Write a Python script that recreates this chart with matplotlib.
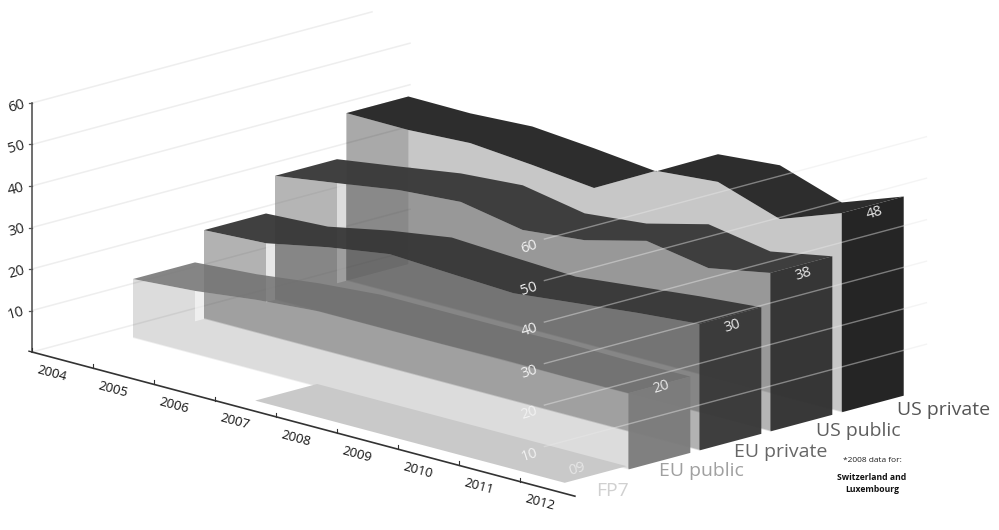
import numpy as np
import matplotlib
matplotlib.use("Agg")
import matplotlib.pyplot as plt
from matplotlib.patches import Polygon

plt.rcParams['font.family'] = ['Open Sans', 'DejaVu Sans']

# values (front edge of every ribbon)
years = [2004, 2005, 2006, 2007, 2008, 2009, 2010, 2011, 2012]
us_private = [40.4, 40.3, 41.1, 39.8, 38.2, 46.3, 47.6, 42.6, 48.0]
us_public = [29.9, 32.1, 34.4, 35.5, 32.7, 34.2, 38.0, 35.4, 38.2]
eu_private = [21.4, 22.2, 25.2, 27.5, 26.7, 26.0, 27.6, 29.2, 30.5]
eu_public = [14.2, 15.3, 17.1, 18.3, 18.3, 18.3, 18.5, 18.3, 18.4]
fp7_years = [2007, 2008, 2009, 2010, 2011, 2012]
fp7 = [0.9, 0.9, 0.9, 0.9, 0.9, 0.9]
value_ticks = [10, 20, 30, 40, 50, 60]
end_labels = [48, 38, 30, 20]

# oblique projection of the chart box on the page (pixels)
ORIGIN = (32, 352)
YEAR_VEC = (61.0, 16.2)
DEPTH_SLOPE = 0.268
Z_SCALE = 4.15
BAND = 62
GAP = 9
YEAR_STEP = 1.015
YEAR_START = 0.4


def project(x, d, z):
    x, d, z = np.asarray(x, float), np.asarray(d, float), np.asarray(z, float)
    px = ORIGIN[0] + YEAR_VEC[0] * x + d
    py = ORIGIN[1] + YEAR_VEC[1] * x - DEPTH_SLOPE * d - Z_SCALE * z
    return px, py


def year_x(y):
    return YEAR_START + YEAR_STEP * (np.asarray(y, float) - years[0])


def face(ax, x, d, z, color, alpha, zorder=2):
    px, py = project(x, d, z)
    ax.add_patch(Polygon(np.column_stack([px, py]), closed=True, fc=color,
                         ec='none', lw=0, alpha=alpha, zorder=zorder))


def ribbon(ax, yrs, vals, d, front, top, end, cap_a=0.0, gap_a=0.0):
    xs = year_x(yrs)
    vals = np.asarray(vals, float)
    zero = np.zeros(len(xs))
    # left cap, seen through the front
    if cap_a:
        face(ax, [xs[0]] * 4, [d, d + BAND, d + BAND, d], [0, 0, vals[0], vals[0]], 'black', cap_a)
    # front
    face(ax, np.r_[xs, xs[::-1]], np.full(2 * len(xs), d), np.r_[vals, zero], front[0], front[1])
    # pale strip between this ribbon and the next one behind it
    if gap_a:
        face(ax, [xs[0]] * 4, [d + BAND, d + BAND + GAP, d + BAND + GAP, d + BAND],
             [0, 0, vals[0], vals[0]], 'white', gap_a)
    # top
    face(ax, np.r_[xs, xs[::-1]], np.r_[np.full(len(xs), d), np.full(len(xs), d + BAND)],
         np.r_[vals, vals[::-1]], top[0], top[1])
    # right end
    face(ax, [xs[-1]] * 4, [d, d + BAND, d + BAND, d], [0, 0, vals[-1], vals[-1]], end[0], end[1])
    # pale line along the foot of the front
    px, py = project(xs, np.full(len(xs), d), zero)
    ax.plot(px, py, color='white', lw=1.2, alpha=0.5, zorder=2)


fig = plt.figure(figsize=(9.99, 5.30), dpi=100)
ax = fig.add_axes([0, 0, 1, 1])
ax.set_xlim(0, 999)
ax.set_ylim(530, 0)
ax.axis('off')

# back wall grid
for v in [0] + value_ticks:
    px, py = project([0, 0], [0, 378 if v < 60 else 340], [v, v])
    ax.plot(px, py, color='#eeeeee', lw=1.1, zorder=1)

ribbon(ax, years, us_private, 290, ('black', 0.22), ('#2d2d2d', 1.0), ('#252525', 1.0), cap_a=0.15)
ribbon(ax, years, us_public, 218.6, ('#666666', 0.48), ('#3a3a3a', 0.97), ('#313131', 0.97), gap_a=0.55)
ribbon(ax, years, eu_private, 147.6, ('#404040', 0.40), ('#363636', 0.95), ('#383838', 0.97), gap_a=0.7)
ribbon(ax, years, eu_public, 76.6, ('#606060', 0.22), ('#707070', 0.85), ('#7c7c7c', 0.97), gap_a=0.57)

# FP7 is almost flat on the floor
xs = year_x(fp7_years)
face(ax, np.r_[xs, xs[::-1]], np.r_[np.full(len(xs), 13), np.full(len(xs), 13 + BAND)],
     np.r_[fp7, fp7[::-1]], '#c9c9c9', 1.0, zorder=3)

# right wall grid runs over the ribbons
for v in value_ticks:
    px, py = project([8.4, 8.4], [0, 382], [v, v])
    ax.plot(px, py, color='#e8e8e8', lw=1.0, alpha=0.45, zorder=4)
    lx, ly = project(8.15, 0, v - 3)
    ax.text(lx, ly, str(v), color='#f2f2f2', fontsize=10.5, rotation=18,
            ha='center', va='center', zorder=5)

# axes
px, py = project([0, 8.9], [0, 0], [0, 0])
ax.plot(px, py, color='#333333', lw=1.2, zorder=6)
px, py = project([0, 0], [0, 0], [0, 60])
ax.plot(px, py, color='#555555', lw=1.2, zorder=6)
px, py = project([-0.05, 0], [0, 0], [0, 0])
ax.plot(px, py, color='#333333', lw=1, zorder=6)
for i, y in enumerate(years):
    tx, ty = project(i, 0, 0)
    ax.plot([tx, tx], [ty, ty - 4], color='#333333', lw=0.8, zorder=6)
    lx, ly = project(i + 0.32, 0, -3.9)
    ax.text(lx, ly, str(y), color='#111111', fontsize=9.5, rotation=-15,
            ha='center', va='center', zorder=6)
for v in value_ticks:
    tx, ty = project(0, 0, v)
    ax.plot([tx - 3, tx], [ty, ty], color='#555555', lw=0.9, zorder=6)
    ax.text(tx - 16, ty + 3, str(v), color='#222222', fontsize=10.5, rotation=15,
            ha='center', va='center', zorder=6)

# numbers on the ribbon ends
for lab, d in zip(end_labels, [290, 218.6, 147.6, 76.6]):
    lx, ly = project(year_x(years[-1]), d + BAND / 2 + 2, lab - 2.2)
    ax.text(lx, ly, str(lab), color='#e8e8e8', fontsize=10.5, rotation=18,
            ha='center', va='center', zorder=5)
lx, ly = project(year_x(years[-1]), 25, 3.5)
ax.text(lx, ly, "09", color='#e6e6e6', fontsize=10.5, rotation=18, ha='center', va='center', zorder=5)

# series names
ax.text(944, 410, "US private", color='#555555', fontsize=14, ha='center', va='center')
ax.text(858, 431, "US public", color='#5e5e5e', fontsize=14, ha='center', va='center')
ax.text(781, 452, "EU private", color='#666666', fontsize=14, ha='center', va='center')
ax.text(701, 471, "EU public", color='#a0a0a0', fontsize=14, ha='center', va='center')
ax.text(612, 491, "FP7", color='#d0d0d0', fontsize=14, ha='center', va='center')

# footnote
ax.text(872, 460, "*2008 data for:", color='#222222', fontsize=6, ha='center', va='center')
ax.text(872, 477, "Switzerland and", color='#111111', fontsize=6.2, weight='bold', ha='center', va='center')
ax.text(872, 490, "Luxembourg", color='#111111', fontsize=6.2, weight='bold', ha='center', va='center')

fig.savefig("out.png", dpi=100)
